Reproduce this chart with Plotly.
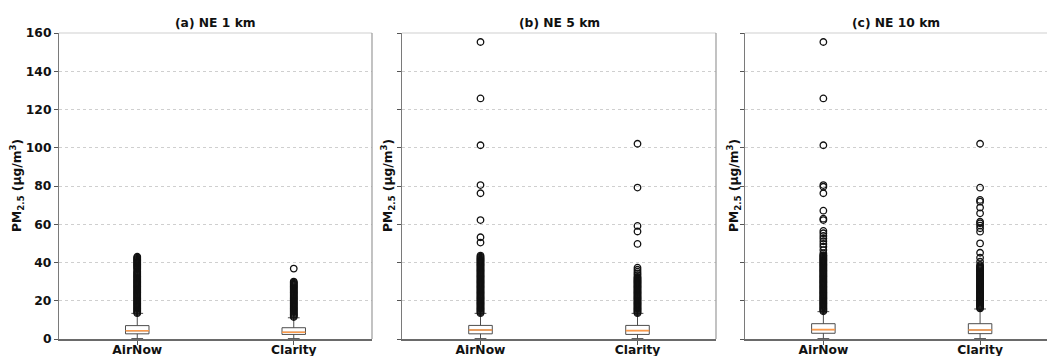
import plotly.graph_objects as go

# ---------------- data ----------------
categories = ["AirNow", "Clarity"]
positions = [1, 2]
panel_titles = ["(a) NE 1 km", "(b) NE 5 km", "(c) NE 10 km"]
y_ticks = [0, 20, 40, 60, 80, 100, 120, 140, 160]

# box statistics per panel: [AirNow, Clarity]
q1_a = [2.7, 2.4]
med_a = [4.3, 3.5]
q3_a = [7.0, 5.9]
lo_a = [0.2, 0.2]
hi_a = [13.4, 11.1]

q1_b = [2.7, 2.4]
med_b = [4.7, 4.4]
q3_b = [7.1, 7.1]
lo_b = [0.2, 0.2]
hi_b = [13.4, 13.4]

q1_c = [3.0, 2.8]
med_c = [4.9, 4.7]
q3_c = [8.0, 8.0]
lo_c = [0.2, 0.2]
hi_c = [14.3, 15.7]

# outliers (fliers)
out_a_airnow = [13.5, 14.0, 14.5, 15.0, 15.5, 16.0, 16.5, 17.0, 17.5, 18.0, 18.5, 19.0,
                19.5, 20.0, 20.5, 21.0, 21.5, 22.0, 22.5, 23.0, 23.5, 24.0, 24.5, 25.0,
                25.5, 26.0, 26.5, 27.0, 27.5, 28.0, 28.5, 29.0, 29.5, 30.0, 30.5, 31.0,
                31.5, 32.0, 32.5, 33.0, 33.5, 34.0, 34.5, 35.0, 35.5, 36.5, 37.0, 37.5,
                38.0, 38.5, 39.0, 39.5, 40.0, 40.5, 41.0, 41.5, 42.0, 42.5, 43.0]
out_a_clarity = [11.5, 12.0, 12.5, 13.0, 13.5, 14.0, 14.5, 15.0, 15.5, 16.0, 16.5, 17.0,
                 17.5, 18.0, 18.5, 19.0, 19.5, 20.0, 20.5, 21.0, 21.5, 22.0, 22.5, 23.0,
                 23.5, 24.0, 24.5, 25.0, 25.5, 26.0, 26.5, 27.0, 27.5, 28.0, 28.5, 29.0,
                 29.5, 30.0, 36.8]
out_b_airnow = [13.5, 14.0, 14.5, 15.0, 15.5, 16.0, 16.5, 17.0, 17.5, 18.0, 18.5, 19.0,
                19.5, 20.0, 20.5, 21.0, 21.5, 22.0, 22.5, 23.0, 23.5, 24.0, 24.5, 25.0,
                25.5, 26.0, 26.5, 27.0, 27.5, 28.0, 28.5, 29.0, 29.5, 30.0, 30.5, 31.0,
                31.5, 32.0, 32.5, 33.0, 33.5, 34.0, 34.5, 35.0, 35.5, 36.0, 36.5, 37.0,
                37.5, 38.0, 38.5, 39.0, 39.5, 40.0, 40.5, 41.0, 41.5, 42.0, 42.5, 43.0,
                43.6, 50.4, 53.2, 62.2, 76.2, 80.5, 101.3, 125.8, 155.3]
out_b_clarity = [13.5, 14.0, 14.5, 15.0, 15.5, 16.0, 16.5, 17.0, 17.5, 18.0, 18.5, 19.0,
                 19.5, 20.0, 20.5, 21.0, 21.5, 22.0, 22.5, 23.0, 23.5, 24.0, 24.5, 25.0,
                 25.5, 26.0, 26.5, 27.0, 27.5, 28.0, 28.5, 29.0, 29.5, 30.0, 30.5, 31.0,
                 31.5, 32.0, 32.5, 33.4, 34.3, 35.2, 36.2, 37.3, 49.7, 56.2, 59.1, 79.2,
                 102.1]
out_c_airnow = [14.5, 15.0, 15.5, 16.0, 16.5, 17.0, 17.5, 18.0, 18.5, 19.0, 19.5, 20.0,
                20.5, 21.0, 21.5, 22.0, 22.5, 23.0, 23.5, 24.0, 24.5, 25.0, 25.5, 26.0,
                26.5, 27.0, 27.5, 28.0, 28.5, 29.0, 29.5, 30.0, 30.5, 31.0, 31.5, 32.0,
                32.5, 33.0, 33.5, 34.0, 34.5, 35.0, 35.5, 36.0, 36.5, 37.0, 37.5, 38.0,
                38.5, 39.0, 39.5, 40.0, 40.5, 41.0, 41.5, 42.0, 42.5, 43.0, 43.5, 43.9,
                44.8, 46.5, 48.3, 49.7, 51.1, 52.5, 53.9, 55.3, 56.5, 62.2, 62.9, 67.1,
                76.2, 79.6, 80.5, 101.3, 125.8, 155.3]
out_c_clarity = [16.0, 16.5, 17.0, 17.5, 18.0, 18.5, 19.0, 19.5, 20.0, 20.5, 21.0, 21.5,
                 22.0, 22.5, 23.0, 23.5, 24.0, 24.5, 25.0, 25.5, 26.0, 26.5, 27.0, 27.5,
                 28.0, 28.5, 29.0, 29.5, 30.0, 30.5, 31.0, 31.5, 32.0, 32.5, 33.0, 33.5,
                 34.0, 34.5, 35.0, 35.5, 36.0, 36.5, 37.0, 37.5, 38.0, 38.7, 40.4, 42.5,
                 45.1, 50.0, 56.1, 57.9, 59.3, 60.5, 61.3, 65.7, 68.7, 71.8, 72.7, 79.1,
                 102.1]

panels = [
    (q1_a, med_a, q3_a, lo_a, hi_a, [out_a_airnow, out_a_clarity]),
    (q1_b, med_b, q3_b, lo_b, hi_b, [out_b_airnow, out_b_clarity]),
    (q1_c, med_c, q3_c, lo_c, hi_c, [out_c_airnow, out_c_clarity]),
]

# ---------------- layout geometry ----------------
W, H = 1047, 356
x_domains = [[59 / W, 372 / W], [402 / W, 716 / W], [745 / W, 1.0]]
x_ranges = [[0.5, 2.5], [0.5, 2.5], [0.5, 2.427]]
y_domain = [(H - 339) / H, (H - 33) / H]
ylabel_x = [17, 388, 734]

FONT = "DejaVu Sans"
BOX_LINE = "#4d4d4d"
MEDIAN = "#fb9a4b"

fig = go.Figure()

for i, (q1, med, q3, lo, hi, outs) in enumerate(panels):
    xa = "x" if i == 0 else f"x{i+1}"
    ya = "y" if i == 0 else f"y{i+1}"
    for j in range(len(categories)):
        fig.add_trace(go.Box(
            x=[positions[j]], q1=[q1[j]], median=[med[j]], q3=[q3[j]],
            lowerfence=[lo[j]], upperfence=[hi[j]],
            width=0.15, whiskerwidth=0.5, boxpoints=False,
            fillcolor="white", line=dict(color=BOX_LINE, width=1),
            xaxis=xa, yaxis=ya, showlegend=False, hoverinfo="skip"))
        fig.add_trace(go.Box(
            x=[positions[j]], q1=[med[j]], median=[med[j]], q3=[med[j]],
            lowerfence=[med[j]], upperfence=[med[j]],
            width=0.15, whiskerwidth=0, boxpoints=False,
            fillcolor="rgba(0,0,0,0)", line=dict(color=MEDIAN, width=1.6),
            xaxis=xa, yaxis=ya, showlegend=False, hoverinfo="skip"))
        vals = outs[j]
        fig.add_trace(go.Scatter(
            x=[positions[j]] * len(vals), y=vals, mode="markers",
            marker=dict(symbol="circle-open", size=6.5, color="#111111",
                        line=dict(width=1.3)),
            xaxis=xa, yaxis=ya, showlegend=False, hoverinfo="skip"))

    xkey = "xaxis" if i == 0 else f"xaxis{i+1}"
    ykey = "yaxis" if i == 0 else f"yaxis{i+1}"
    fig.layout[xkey] = dict(
        domain=x_domains[i], range=x_ranges[i], anchor=ya,
        tickvals=positions, ticktext=categories,
        ticks="outside", ticklen=4, tickcolor="#555555",
        ticklabelstandoff=-6,
        showline=True, linecolor="#6a6a6a", linewidth=1.6,
        showgrid=False, zeroline=False, automargin=False,
        tickfont=dict(family=FONT, size=12.3, color="#111111", weight="bold"))
    fig.layout[ykey] = dict(
        domain=y_domain, range=[0, 160], anchor=xa,
        tickvals=y_ticks, showticklabels=(i == 0),
        ticks="outside", ticklen=4, tickcolor="#555555",
        showline=True, linecolor="#7a7a7a", linewidth=1.2,
        showgrid=True, gridcolor="#cfcfcf", gridwidth=0.8, griddash="dot",
        zeroline=False, automargin=False,
        tickfont=dict(family=FONT, size=12.3, color="#111111", weight="bold"))

    xd = x_domains[i]
    # top spine (light) and right spine
    fig.add_shape(type="line", xref="paper", yref="paper",
                  x0=xd[0], x1=xd[1], y0=y_domain[1], y1=y_domain[1],
                  line=dict(color="#cfcfcf", width=1.2))
    if i < 2:
        fig.add_shape(type="line", xref="paper", yref="paper",
                      x0=xd[1], x1=xd[1], y0=y_domain[0], y1=y_domain[1],
                      line=dict(color="#9a9a9a", width=1.2))

    fig.add_annotation(
        text=panel_titles[i], xref="paper", yref="paper",
        x=(xd[0] + xd[1]) / 2, y=(H - 23) / H, xanchor="center", yanchor="middle",
        showarrow=False,
        font=dict(family=FONT, size=12.3, color="#111111", weight="bold"))
    fig.add_annotation(
        text="PM<sub>2.5</sub> (µg/m<sup>3</sup>)", xref="paper", yref="paper",
        x=ylabel_x[i] / W, y=(H - 186) / H, xanchor="center", yanchor="middle",
        textangle=-90, showarrow=False,
        font=dict(family=FONT, size=12.3, color="#111111", weight="bold"))

fig.update_layout(
    width=W, height=H, margin=dict(l=0, r=0, t=0, b=0),
    paper_bgcolor="white", plot_bgcolor="white",
    boxmode="overlay", showlegend=False,
)

fig.write_html("out.html")
